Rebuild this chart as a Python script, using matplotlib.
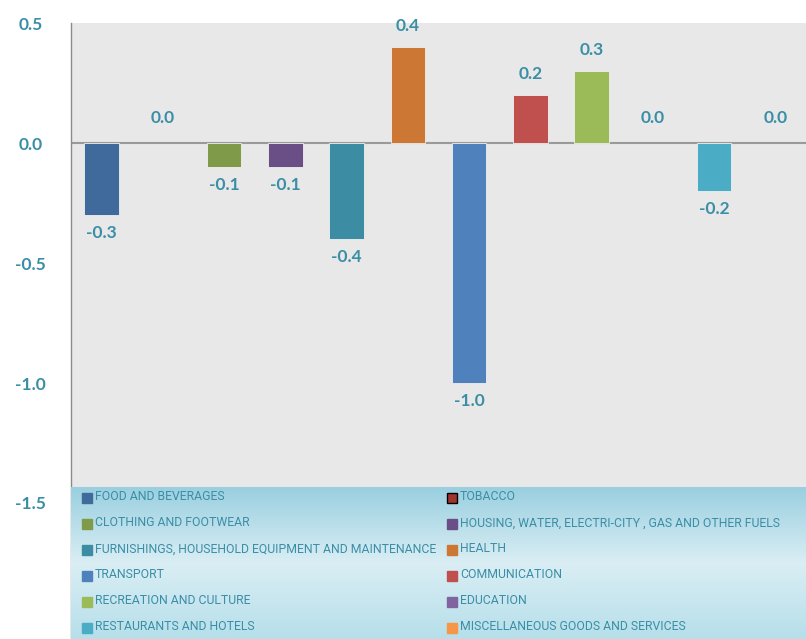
import numpy as np
import matplotlib
matplotlib.use("Agg")
import matplotlib.pyplot as plt
from matplotlib.patches import Rectangle

categories = [
    "FOOD AND BEVERAGES", "TOBACCO", "CLOTHING AND FOOTWEAR",
    "HOUSING, WATER, ELECTRI-CITY , GAS AND OTHER FUELS",
    "FURNISHINGS, HOUSEHOLD EQUIPMENT AND MAINTENANCE", "HEALTH",
    "TRANSPORT", "COMMUNICATION", "RECREATION AND CULTURE", "EDUCATION",
    "RESTAURANTS AND HOTELS", "MISCELLANEOUS GOODS AND SERVICES",
]
values = [-0.3, 0.0, -0.1, -0.1, -0.4, 0.4, -1.0, 0.2, 0.3, 0.0, -0.2, 0.0]
colors = ["#3f6a9b", "#a0342f", "#7f9a48", "#6a4f87", "#3c8ca3", "#cd7734",
          "#4f81bd", "#c0504d", "#9bbb59", "#8064a2", "#4bacc6", "#f79646"]
yticks = [0.5, 0.0, -0.5, -1.0, -1.5]

TXT = "#3a8ea6"
W, H = 806, 639
fig = plt.figure(figsize=(W / 100, H / 100), dpi=100)
fig.patch.set_facecolor("white")

ax_left, ax_right = 71, 806
ax_top, ax_bot = 23, 639
ax = fig.add_axes([ax_left / W, 1 - ax_bot / H, (ax_right - ax_left) / W, (ax_bot - ax_top) / H])
ax.set_facecolor("#e8e8e8")
ppu = 240.0
ax.set_ylim(0.5 - (ax_bot - ax_top) / ppu, 0.5)
ax.set_xlim(-0.5, len(categories) - 0.5)

x = np.arange(len(categories))
lws = [0.6 if v != 0 else 0 for v in values]
ax.bar(x, values, width=0.56, color=colors, edgecolor="#f0f0f0", linewidth=lws, zorder=3)
ax.axhline(0, color="#9a9a9a", linewidth=1.5, zorder=2)

for xi, v in zip(x, values):
    if v > 0:
        off = 15
    elif v < 0:
        off = -13
    else:
        off = 18
    ax.annotate(f"{v:.1f}", (xi, v), xytext=(0, off), textcoords="offset points",
                ha="center", va="center", color=TXT, fontsize=12.5,
                fontweight="bold", family="Lato")

ax.set_yticks(yticks)
ax.set_yticklabels([f"{t:.1f}" for t in yticks], color=TXT, fontsize=12.5,
                   fontweight="bold", family="Lato")
for lbl in ax.get_yticklabels():
    lbl.set_horizontalalignment("center")
ax.tick_params(axis="y", length=0, pad=29)
ax.set_xticks([])
for s in ["top", "right", "bottom"]:
    ax.spines[s].set_visible(False)
ax.spines["left"].set_color("#8a8a8a")
ax.spines["left"].set_linewidth(1.0)

# legend background gradient (figure pixel coords)
leg_top = 487
lax = fig.add_axes([ax_left / W, 0, (ax_right - ax_left) / W, (H - leg_top) / H])
lax.set_xlim(0, ax_right - ax_left)
lax.set_ylim(H - leg_top, 0)
lax.axis("off")
t = np.linspace(0, 1, 200)
c_top = np.array([0x9a, 0xcf, 0xe0]) / 255
c_mid = np.array([0xda, 0xee, 0xf4]) / 255
c_bot = np.array([0xb6, 0xdf, 0xea]) / 255
grad = np.where(t[:, None] < 0.5,
                c_top + (c_mid - c_top) * (t[:, None] / 0.5),
                c_mid + (c_bot - c_mid) * ((t[:, None] - 0.5) / 0.5))
lax.imshow(grad[:, None, :], extent=[0, ax_right - ax_left, H - leg_top, 0], aspect="auto", zorder=0)

col_x = [87 - ax_left, 452 - ax_left]
row_y0, row_dy = 497 - leg_top, 26
for i, (name, c) in enumerate(zip(categories, colors)):
    col = i % 2
    row = i // 2
    cx = col_x[col]
    cy = row_y0 + row * row_dy
    ec = "black" if i == 1 else c
    lax.add_patch(Rectangle((cx - 5, cy - 4), 10, 10, facecolor=c, edgecolor=ec, linewidth=1.0, zorder=2))
    lax.text(cx + 8, cy, name, color=TXT, fontsize=8.8, va="center", ha="left",
             family=["Liberation Sans Narrow", "Roboto"], zorder=3)

fig.savefig("out.png", dpi=100)
